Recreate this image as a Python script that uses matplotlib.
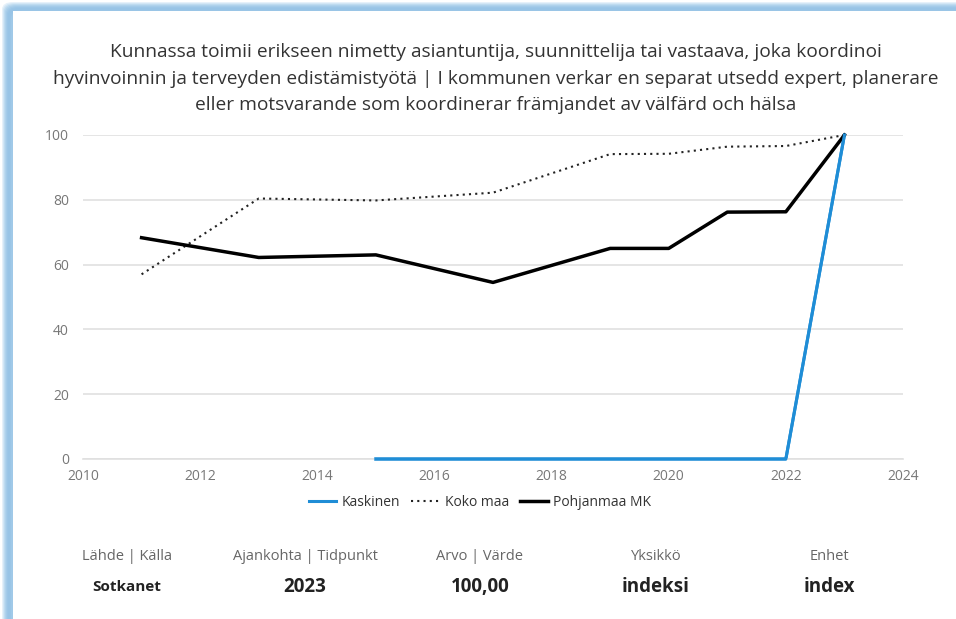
import matplotlib
matplotlib.use("Agg")
import matplotlib.pyplot as plt
from matplotlib.patches import Rectangle, FancyBboxPatch

years_kaskinen = [2015, 2017, 2019, 2020, 2021, 2022, 2023]
kaskinen = [0, 0, 0, 0, 0, 0, 100]
years = [2011, 2013, 2015, 2017, 2019, 2020, 2021, 2022, 2023]
koko_maa = [57.0, 80.4, 79.8, 82.2, 94.1, 94.2, 96.4, 96.6, 100]
pohjanmaa = [68.3, 62.2, 63.0, 54.5, 65.0, 65.0, 76.2, 76.3, 100]

title_lines = [
    "Kunnassa toimii erikseen nimetty asiantuntija, suunnittelija tai vastaava, joka koordinoi",
    "hyvinvoinnin ja terveyden edistämistyötä | I kommunen verkar en separat utsedd expert, planerare",
    "eller motsvarande som koordinerar främjandet av välfärd och hälsa",
]
info_labels = ["Lähde | Källa", "Ajankohta | Tidpunkt", "Arvo | Värde", "Yksikkö", "Enhet"]
info_values = ["Sotkanet", "2023", "100,00", "indeksi", "index"]
xticks = [2010, 2012, 2014, 2016, 2018, 2020, 2022, 2024]
yticks = [0, 20, 40, 60, 80, 100]

plt.rcParams['font.family'] = ['Open Sans', 'DejaVu Sans']
W, H = 956, 619
fig = plt.figure(figsize=(W / 100, H / 100), dpi=100)
fig.patch.set_facecolor("white")

# frame: soft light-blue border on the left and top
shades = ["#e6f1fa", "#d2e6f5", "#bedbf0", "#afd2ec", "#a4cbe9", "#9cc6e7", "#98c4e6", "#98c4e6", "#9ac5e6", "#a0c9e8"]
for i, c in enumerate(shades):
    fig.add_artist(FancyBboxPatch(((2 + i) / W, -0.1), (W * 2) / W, 1.1 - (2 + i) / H,
                                  boxstyle="round,pad=0,rounding_size=0.012",
                                  transform=fig.transFigure, facecolor=c, edgecolor="none", zorder=0))
fig.add_artist(Rectangle((13 / W, -0.1), 2, 1.1 - 11 / H, transform=fig.transFigure,
                         facecolor="white", edgecolor="none", zorder=0))

ax = fig.add_axes([83 / W, 1 - 459 / H, (903 - 83) / W, (459 - 135) / H])
ax.set_facecolor("none")
ax.set_xlim(2010, 2024)
ax.set_ylim(0, 100)
ax.set_xticks(xticks)
ax.set_yticks(yticks)
ax.grid(axis="y", color="#e0e0e0", linewidth=1.2)
ax.set_axisbelow(True)
for s in ["top", "right", "left"]:
    ax.spines[s].set_visible(False)
ax.spines["bottom"].set_color("#e0e0e0")
ax.spines["bottom"].set_linewidth(1.2)
ax.tick_params(length=0, colors="#777777", labelsize=10)
ax.tick_params(axis="y", pad=10)
ax.tick_params(axis="x", pad=7)

l1, = ax.plot(years_kaskinen, kaskinen, color="#1f8dd6", lw=2.2, clip_on=False, label="Kaskinen")
l2, = ax.plot(years, koko_maa, color="#222222", lw=1.5, ls=(0, (1, 2)), clip_on=False, label="Koko maa")
l3, = ax.plot(years, pohjanmaa, color="#000000", lw=2.5, clip_on=False, label="Pohjanmaa MK")
ax.plot(years_kaskinen, kaskinen, color="#1f8dd6", lw=2.2, clip_on=False, zorder=5)

fig.legend(handles=[l1, l2, l3], loc="center", bbox_to_anchor=(480 / W, 1 - 502 / H), ncol=3,
           frameon=False, fontsize=10, handlelength=2.0, handletextpad=0.4, columnspacing=0.8,
           labelcolor="#333333")

for i, line in enumerate(title_lines):
    fig.text(496 / W, 1 - (52 + 26.5 * i) / H, line, ha="center", va="center", fontsize=13.8, color="#333333")

cols = [127, 305, 480, 656, 829]
sizes = [11, 13.5, 13.5, 13.5, 13.5]
for x, lab, val, sz in zip(cols, info_labels, info_values, sizes):
    fig.text(x / W, 1 - 556 / H, lab, ha="center", va="center", fontsize=10.5, color="#666666")
    fig.text(x / W, 1 - 587 / H, val, ha="center", va="center", fontsize=sz, fontweight="bold", color="#222222")

fig.savefig("out.png", dpi=100, facecolor=fig.get_facecolor())
